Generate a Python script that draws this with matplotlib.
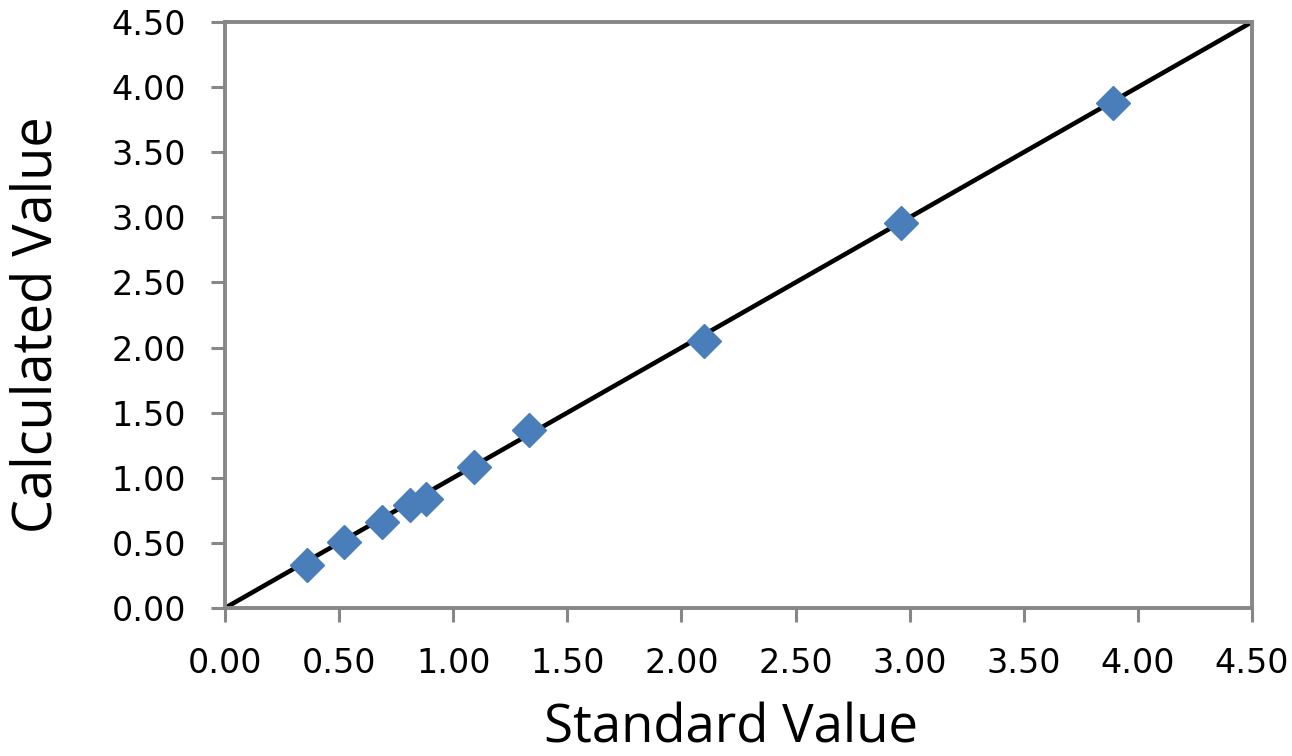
import matplotlib
matplotlib.use("Agg")
import matplotlib.pyplot as plt
import numpy as np

# standard vs calculated values
standard = [0.36, 0.52, 0.69, 0.81, 0.88, 1.09, 1.33, 2.10, 2.96, 3.89]
calculated = [0.33, 0.51, 0.66, 0.79, 0.84, 1.08, 1.37, 2.05, 2.96, 3.88]
fit_x = [0.0, 4.5]
fit_y = [0.0, 4.5]
ticks = np.arange(0, 4.51, 0.5)

fig = plt.figure(figsize=(12.92, 7.56), dpi=100)
ax = fig.add_axes([225 / 1292, 1 - 608 / 756, (1252 - 225) / 1292, (608 - 22) / 756])

ax.plot(fit_x, fit_y, color="black", lw=3.3, zorder=2, solid_capstyle="butt")
ax.plot(standard, calculated, linestyle="none", marker="D", ms=17.5,
        color="#4a7ebb", mec="#4a7ebb", zorder=3)

ax.set_xlim(0, 4.5)
ax.set_ylim(0, 4.5)
ax.set_xticks(ticks)
ax.set_yticks(ticks)
ax.set_xticklabels(["%.2f" % t for t in ticks])
ax.set_yticklabels(["%.2f" % t for t in ticks])

grey = "#878787"
for side in ["left", "bottom", "top", "right"]:
    ax.spines[side].set_color(grey)
    ax.spines[side].set_linewidth(2.8)

ax.tick_params(axis="both", direction="out", length=10, width=2.2, color=grey,
               labelsize=24, pad=18, labelcolor="black")

ax.set_xlabel("Standard Value", fontsize=38, family="Open Sans", labelpad=16)
ax.set_ylabel("Calculated Value", fontsize=39, family="Open Sans", labelpad=34)
# labels sit a little off centre in the reference
ax.xaxis.label.set_x(0.493)
ax.yaxis.label.set_y(0.483)

fig.savefig("out.png", dpi=100)
